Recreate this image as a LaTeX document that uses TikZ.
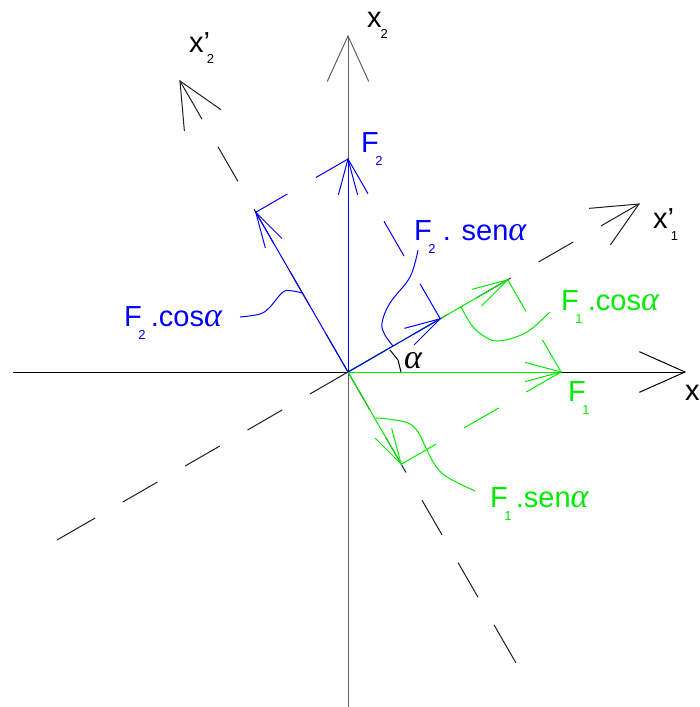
\documentclass[tikz,border=0pt]{standalone}
\usepackage{fontspec}
\setmainfont{Liberation Sans}
\newfontfamily\grk{Liberation Serif}
\usetikzlibrary{calc}
\definecolor{fblue}{RGB}{0,0,255}
\definecolor{fgreen}{RGB}{0,235,0}
\definecolor{axgray}{RGB}{95,95,95}
\definecolor{dashk}{RGB}{30,30,30}
% V-shaped open head: [opts]{tip}{from}{length}{half angle}
\newcommand\Vhd[5][]{\draw[#1] ($(#2)!#4!#5:(#3)$) -- (#2) -- ($(#2)!#4!-#5:(#3)$);}
\newcommand\subs[2][-13pt]{\raisebox{#1}{\fontsize{13}{13}\selectfont #2}}
\newcommand\Fsub[1]{F\kern-3.4pt\subs{#1}}
\newcommand\al{{\grk\itshape\fontsize{34}{34}\selectfont α}}
\begin{document}
\begin{tikzpicture}[x=1pt,y=-1pt,
  line width=1pt,
  lab/.style={anchor=base west,inner sep=0pt,outer sep=0pt,font=\fontsize{29}{29}\selectfont},
  axdash/.style={dashk,dash pattern=on 44pt off 32pt on 40pt off 32pt on 40pt off 32pt on 40pt off 32pt on 44pt off 100pt},
  shortdash/.style={dash pattern=on 37pt off 33pt},
  longdash/.style={dash pattern=on 40pt off 32pt},
  bvec/.style={fblue},
  gvec/.style={fgreen}]
\useasboundingbox (0,0) rectangle (700,707);
% key points
\coordinate (O) at (348,372);
\coordinate (Xw) at (13,372);
\coordinate (Xe) at (685,372);
\coordinate (Yn) at (348,36);
\coordinate (Ys) at (348,707);
\coordinate (A1) at (639,204);
\coordinate (A1n) at (57,540);
\coordinate (A2) at (180,81);
\coordinate (A2n) at (516,663);
\coordinate (F1) at (561,372);
\coordinate (F2) at (348,159);
\coordinate (F1c) at ($(O)!(F1)!(A1)$);
\coordinate (F1s) at ($(O)!(F1)!(A2n)$);
\coordinate (F2c) at ($(O)!(F2)!(A2)$);
\coordinate (F2s) at ($(O)!(F2)!(A1)$);
% axes
\draw (Xw) -- (Xe);
\draw[axgray] (Ys) -- (Yn);
\Vhd{Xe}{O}{50pt}{24}
\Vhd[axgray]{Yn}{O}{50pt}{24.5}
% rotated axes (dashed)
\draw[axdash] (O) -- (A1);
\draw[axdash] (O) -- (A1n);
\draw[axdash] (O) -- (A2);
\draw[axdash] (O) -- (A2n);
\Vhd[dashk]{A1}{O}{50pt}{25}
\Vhd[dashk]{A2}{O}{50pt}{25}
% projection lines
\draw[fblue,shortdash] (F2) -- (F2c);
\draw[fblue,longdash] (F2) -- (F2s);
\draw[fgreen,shortdash] (F1) -- (F1c);
\draw[fgreen,longdash] (F1) -- (F1s);
% green vectors
\draw[gvec] (O) -- (F1c);
\Vhd[gvec]{F1c}{O}{37pt}{15}
\draw[gvec] (O) -- (F1s);
\Vhd[gvec]{F1s}{O}{37pt}{15}
\draw[gvec] (O) -- (F1);
\Vhd[gvec]{F1}{O}{37pt}{15}
% blue vectors
\draw[bvec] (O) -- (F2);
\Vhd[bvec]{F2}{O}{37pt}{15}
\draw[bvec] (O) -- (F2c);
\Vhd[bvec]{F2c}{O}{37pt}{15}
\draw[bvec] (O) -- (F2s);
\Vhd[bvec]{F2s}{O}{37pt}{15}
% angle
\draw (390,350) -- (398,360) -- (401,372);
\node[lab] (alpha) at (404,368) {\al};
% labels
\node[lab] (lx) at (685,400) {x};
\node[lab] (lx2) at (367,27) {x\kern-1pt\subs[-11pt]{2}};
\node[lab] (lx1p) at (653,228) {x'\kern-3pt\subs[-12pt]{1}};
\node[lab] (lx2p) at (189,52) {x'\kern-3pt\subs[-11pt]{2}};
\node[lab,fblue] (lF2) at (361,152) {\Fsub{2}};
\node[lab,fblue] (lF2s) at (414,240) {\Fsub{2}\kern7.3pt. sen\al};
\node[lab,fblue] (lF2c) at (124,326) {\Fsub{2}\kern5.3pt.cos\al};
\node[lab,fgreen] (lF1c) at (561,310) {\Fsub{1}\kern5.3pt.cos\al};
\node[lab,fgreen] (lF1) at (568,401) {\Fsub{1}};
\node[lab,fgreen] (lF1s) at (490,507) {\Fsub{1}\kern4.3pt.sen\al};
% leader curves
\draw[fblue] plot[smooth,tension=0.6] coordinates {(418,250) (410,277) (390,303) (382,323) (385,335) (393,346)};
\draw[fblue] plot[smooth,tension=0.6] coordinates {(240,317) (260,314) (270,307) (283,292) (293,291) (302,293)};
\draw[fgreen] plot[smooth,tension=0.6] coordinates {(461,307) (473,327) (487,338) (497,341) (513,338) (530,330) (550,312)};
\draw[fgreen] plot[smooth,tension=0.6] coordinates {(376,418) (388,419) (408,423) (418,432) (427,450) (435,465) (447,477) (475,491)};
\end{tikzpicture}
\end{document}
